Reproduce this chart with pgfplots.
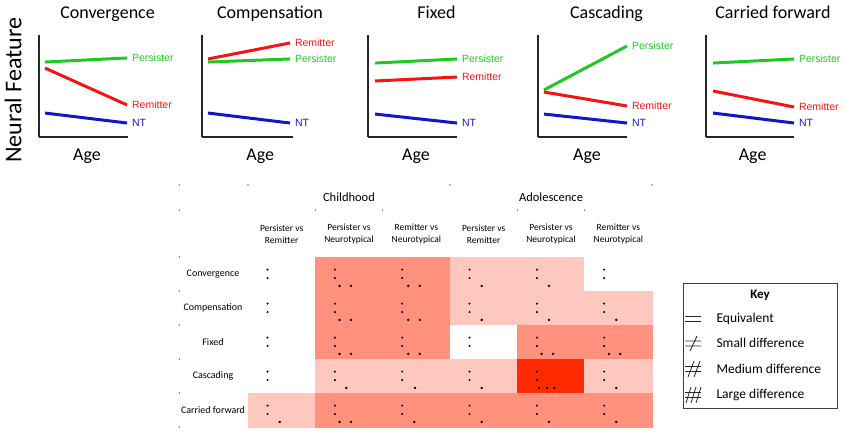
\documentclass[border=0pt]{standalone}
\usepackage{pgfplots}
\pgfplotsset{compat=1.18}
\usepackage{pgfplotstable}
\usepackage{fontspec}
\setmainfont{Carlito}
\newfontfamily\arialf{Liberation Sans}

\definecolor{pgreen}{RGB}{34,200,34}
\definecolor{rred}{RGB}{245,20,20}
\definecolor{ntblue}{RGB}{20,20,200}

\pgfplotsset{
  panel/.style={
    scale only axis, width=89pt, height=102pt,
    xmin=0, xmax=1, ymin=0, ymax=1,
    axis lines=left, axis line style={-, line width=1.4pt, black!85},
    xtick=\empty, ytick=\empty, clip=false,
    title style={at={(0.77,1.103)}, anchor=base, font=\fontsize{18}{20}\selectfont},
    xlabel=Age,
    xlabel style={anchor=base, font=\fontsize{18}{20}\selectfont},
  },
  grp/.style={line width=3pt, color=#1},
}
\tikzset{
  lab/.style={pos=1, anchor=west, xshift=2.5pt, inner sep=1pt,
    font=\arialf\fontsize{10.5}{12}\selectfont, text=#1},
  hdr/.style={align=center, font=\fontsize{9.5}{12}\selectfont},
  rowl/.style={font=\fontsize{10}{12}\selectfont},
}

% heat level per cell: 0 none, 1 small, 2 medium, 3 large
\pgfplotstableread{
x   y   c
0.5 0.5 0
1.5 0.5 2
2.5 0.5 2
3.5 0.5 1
4.5 0.5 1
5.5 0.5 0
0.5 1.5 0
1.5 1.5 2
2.5 1.5 2
3.5 1.5 1
4.5 1.5 1
5.5 1.5 1
0.5 2.5 0
1.5 2.5 2
2.5 2.5 2
3.5 2.5 0
4.5 2.5 2
5.5 2.5 2
0.5 3.5 0
1.5 3.5 1
2.5 3.5 1
3.5 3.5 1
4.5 3.5 3
5.5 3.5 1
0.5 4.5 1
1.5 4.5 2
2.5 4.5 2
3.5 4.5 2
4.5 4.5 2
5.5 4.5 2
}\heat

\begin{document}
\begin{tikzpicture}
\path[use as bounding box] (0pt,0pt) rectangle (845pt,-432pt);

% Convergence
\begin{axis}[panel, at={(39pt,-137pt)}, anchor=south west, title=Convergence,
  xlabel style={at={(0.54,-0.235)}},
  ylabel=Neural Feature,
  ylabel style={at={(-0.29,0.46)}, anchor=center, font=\fontsize{24}{26}\selectfont}]
\addplot[grp=pgreen] coordinates {(0.067,0.735) (0.99,0.775)} node[lab=pgreen] {Persister};
\addplot[grp=rred] coordinates {(0.067,0.676) (0.99,0.314)} node[lab=rred] {Remitter};
\addplot[grp=ntblue] coordinates {(0.067,0.235) (0.99,0.137)} node[lab=ntblue] {NT};
\end{axis}

% Compensation
\begin{axis}[panel, at={(202pt,-137pt)}, anchor=south west, width=91pt, title=Compensation,
  title style={at={(0.747,1.103)}},
  xlabel style={at={(0.64,-0.235)}}]
\addplot[grp=pgreen] coordinates {(0.066,0.735) (0.967,0.765)} node[lab=pgreen] {Persister};
\addplot[grp=rred] coordinates {(0.066,0.765) (0.967,0.922)} node[lab=rred] {Remitter};
\addplot[grp=ntblue] coordinates {(0.066,0.235) (0.967,0.137)} node[lab=ntblue] {NT};
\end{axis}

% Fixed
\begin{axis}[panel, at={(368pt,-137pt)}, anchor=south west, title=Fixed,
  xlabel style={at={(0.54,-0.235)}}]
\addplot[grp=pgreen] coordinates {(0.079,0.725) (1.0,0.765)} node[lab=pgreen] {Persister};
\addplot[grp=rred] coordinates {(0.079,0.549) (1.0,0.588)} node[lab=rred] {Remitter};
\addplot[grp=ntblue] coordinates {(0.079,0.225) (1.0,0.137)} node[lab=ntblue] {NT};
\end{axis}

% Cascading
\begin{axis}[panel, at={(538pt,-137pt)}, anchor=south west, title=Cascading,
  xlabel style={at={(0.55,-0.235)}}]
\addplot[grp=pgreen] coordinates {(0.067,0.461) (1.0,0.892)} node[lab=pgreen] {Persister};
\addplot[grp=rred] coordinates {(0.067,0.441) (1.0,0.304)} node[lab=rred] {Remitter};
\addplot[grp=ntblue] coordinates {(0.067,0.225) (1.0,0.137)} node[lab=ntblue] {NT};
\end{axis}

% Carried forward
\begin{axis}[panel, at={(706pt,-137pt)}, anchor=south west, width=88pt, title=Carried forward,
  title style={at={(0.76,1.103)}},
  xlabel style={at={(0.53,-0.235)}}]
\addplot[grp=pgreen] coordinates {(0.08,0.725) (1.0,0.765)} node[lab=pgreen] {Persister};
\addplot[grp=rred] coordinates {(0.08,0.451) (1.0,0.294)} node[lab=rred] {Remitter};
\addplot[grp=ntblue] coordinates {(0.08,0.235) (1.0,0.137)} node[lab=ntblue] {NT};
\end{axis}

% table of differences
\begin{axis}[at={(248pt,-427pt)}, anchor=south west, scale only axis,
  width=404pt, height=170pt, xmin=0, xmax=6, ymin=0, ymax=5,
  y dir=reverse, hide axis, clip=false,
  colormap={heat}{rgb255=(255,255,255) rgb255=(255,200,190) rgb255=(255,145,125) rgb255=(255,42,0)},
  point meta min=0, point meta max=3]
\addplot[matrix plot*, mesh/cols=6, point meta=explicit] table[meta=c] {\heat};

% colon glyphs in every cell
\addplot[only marks, mark=*, mark size=0.8pt, black] coordinates {
  (0.29,0.37)(1.29,0.37)(2.29,0.37)(3.29,0.37)(4.29,0.37)(5.29,0.37)
  (0.29,0.62)(1.29,0.62)(2.29,0.62)(3.29,0.62)(4.29,0.62)(5.29,0.62)
  (0.29,1.37)(1.29,1.37)(2.29,1.37)(3.29,1.37)(4.29,1.37)(5.29,1.37)
  (0.29,1.62)(1.29,1.62)(2.29,1.62)(3.29,1.62)(4.29,1.62)(5.29,1.62)
  (0.29,2.37)(1.29,2.37)(2.29,2.37)(3.29,2.37)(4.29,2.37)(5.29,2.37)
  (0.29,2.62)(1.29,2.62)(2.29,2.62)(3.29,2.62)(4.29,2.62)(5.29,2.62)
  (0.29,3.37)(1.29,3.37)(2.29,3.37)(3.29,3.37)(4.29,3.37)(5.29,3.37)
  (0.29,3.62)(1.29,3.62)(2.29,3.62)(3.29,3.62)(4.29,3.62)(5.29,3.62)
  (0.29,4.37)(1.29,4.37)(2.29,4.37)(3.29,4.37)(4.29,4.37)(5.29,4.37)
  (0.29,4.62)(1.29,4.62)(2.29,4.62)(3.29,4.62)(4.29,4.62)(5.29,4.62)
};
% difference strokes
\addplot[only marks, mark=*, mark size=1pt, black] coordinates {
  (1.36,0.85)(1.53,0.85)(2.38,0.85)(2.55,0.85)(3.47,0.85)(4.47,0.85)
  (1.36,1.85)(1.53,1.85)(2.38,1.85)(2.55,1.85)(3.47,1.85)(4.47,1.85)(5.47,1.85)
  (1.36,2.85)(1.53,2.85)(2.38,2.85)(2.55,2.85)(4.36,2.85)(4.53,2.85)(5.36,2.85)(5.53,2.85)
  (1.46,3.85)(2.48,3.85)(3.47,3.85)(4.32,3.85)(4.44,3.85)(4.55,3.85)(5.47,3.85)
  (0.47,4.85)(1.36,4.85)(1.53,4.85)(2.47,4.85)(3.47,4.85)(4.47,4.85)(5.47,4.85)
};
% stray grid marks
\addplot[only marks, mark=*, mark size=0.45pt, black!60] coordinates {
  (-1.02,-2.12)(-1.02,-1.38)(-1.02,0)(-1.02,1)(-1.02,2)(-1.02,3)(-1.02,4)(-1.02,5)
  (0,-2.12)(3,-2.12)(6,-2.12)(1,-1.38)(2,-1.38)(4,-1.38)(5,-1.38)
};

\node[font=\fontsize{12.5}{14}\selectfont] at (axis cs:1.5,-1.76) {Childhood};
\node[font=\fontsize{12.5}{14}\selectfont] at (axis cs:4.5,-1.76) {Adolescence};
\node[hdr] at (axis cs:0.5,-0.68) {Persister vs\\Remitter};
\node[hdr] at (axis cs:1.5,-0.68) {Persister vs\\Neurotypical};
\node[hdr] at (axis cs:2.5,-0.68) {Remitter vs\\Neurotypical};
\node[hdr] at (axis cs:3.5,-0.68) {Persister vs\\Remitter};
\node[hdr] at (axis cs:4.5,-0.68) {Persister vs\\Neurotypical};
\node[hdr] at (axis cs:5.5,-0.68) {Remitter vs\\Neurotypical};
\node[rowl] at (axis cs:-0.52,0.5) {Convergence};
\node[rowl] at (axis cs:-0.52,1.5) {Compensation};
\node[rowl] at (axis cs:-0.52,2.5) {Fixed};
\node[rowl] at (axis cs:-0.52,3.5) {Cascading};
\node[rowl] at (axis cs:-0.52,4.5) {Carried forward};
\end{axis}

% key
\draw[line width=1pt, black!75] (683pt,-283pt) rectangle (837pt,-408pt);
\node[font=\bfseries\fontsize{13}{15}\selectfont] at (760pt,-295pt) {Key};
\begin{scope}[line width=0.8pt, black!85]
\draw (685pt,-316.5pt) -- (701pt,-316.5pt) (685pt,-321.5pt) -- (701pt,-321.5pt);
\draw (685pt,-341pt) -- (701pt,-341pt) (685pt,-346pt) -- (701pt,-346pt) (690pt,-351pt) -- (697pt,-336pt);
\draw (685pt,-366.5pt) -- (701pt,-366.5pt) (685pt,-371.5pt) -- (701pt,-371.5pt)
      (688pt,-377pt) -- (694pt,-361pt) (694pt,-377pt) -- (700pt,-361pt);
\draw (685pt,-392.5pt) -- (701pt,-392.5pt) (685pt,-397.5pt) -- (701pt,-397.5pt)
      (686pt,-403pt) -- (691pt,-387pt) (691pt,-403pt) -- (696pt,-387pt) (696pt,-403pt) -- (701pt,-387pt);
\end{scope}
\begin{scope}[font=\fontsize{13.5}{15}\selectfont]
\node[anchor=west] at (713pt,-319pt) {Equivalent};
\node[anchor=west] at (713pt,-343pt) {Small difference};
\node[anchor=west] at (713pt,-369pt) {Medium difference};
\node[anchor=west] at (713pt,-395pt) {Large difference};
\end{scope}
\end{tikzpicture}
\end{document}
